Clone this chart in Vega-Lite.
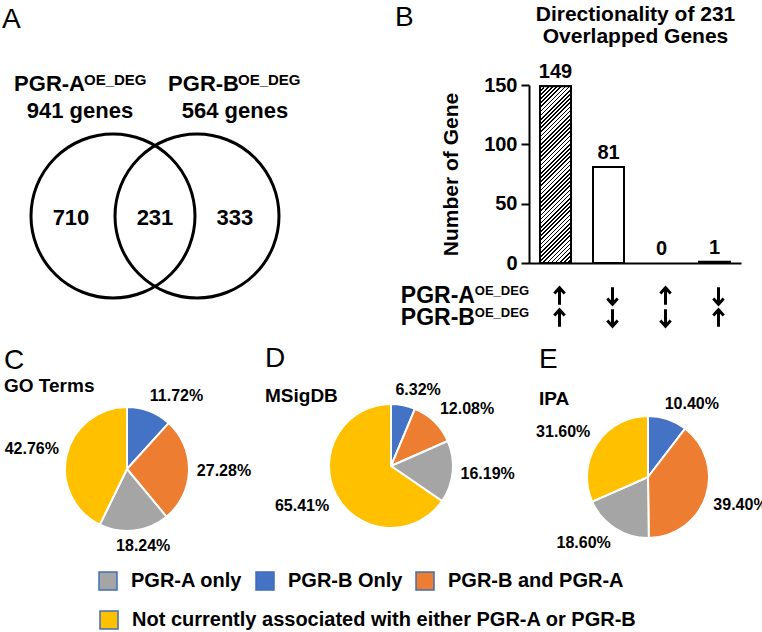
{
  "$schema": "https://vega.github.io/schema/vega-lite/v6.json",
  "background": "white",
  "padding": {"left": 1, "top": 3, "right": 0, "bottom": 0},
  "config": {
    "font": "Liberation Sans",
    "view": {"stroke": null},
    "title": {"fontSize": 28, "fontWeight": "normal", "anchor": "start", "color": "black", "subtitleFontSize": 19, "subtitleFontWeight": "bold", "subtitleColor": "black", "subtitleFont": "Liberation Sans"},
    "text": {"font": "Liberation Sans", "fontWeight": "bold", "color": "black"},
    "legend": {"title": null, "padding": 0, "symbolType": "square", "symbolSize": 324, "symbolStrokeColor": "#3f6fb5", "symbolStrokeWidth": 1.5, "labelFontSize": 20, "labelFontWeight": "bold", "labelColor": "black", "labelOffset": 13, "columnPadding": 10, "labelLimit": 600}
  },
  "datasets": {
    "venn_sets": [
      {"set": "PGR-A", "label": "941 genes", "x": 0},
      {"set": "PGR-B", "label": "564 genes", "x": 1}
    ],
    "venn_regions": [
      {"region": "PGR-A only", "count": 710, "x": -0.5},
      {"region": "PGR-A and PGR-B", "count": 231, "x": 0.5},
      {"region": "PGR-B only", "count": 333, "x": 1.45}
    ],
    "directions": [
      {"pattern": "↑↑", "A": "up", "B": "up", "genes": 149},
      {"pattern": "↓↓", "A": "down", "B": "down", "genes": 81},
      {"pattern": "↑↓", "A": "up", "B": "down", "genes": 0},
      {"pattern": "↓↑", "A": "down", "B": "up", "genes": 1}
    ],
    "rows": [{"row": "PGR-A"}, {"row": "PGR-B"}],
    "go": [
      {"category": "PGR-B Only", "pct": 0.1172, "rank": 1},
      {"category": "PGR-B and PGR-A", "pct": 0.2728, "rank": 2},
      {"category": "PGR-A only", "pct": 0.1824, "rank": 3},
      {"category": "Not currently associated with either PGR-A or PGR-B", "pct": 0.4276, "rank": 4}
    ],
    "msig": [
      {"category": "PGR-B Only", "pct": 0.0632, "rank": 1},
      {"category": "PGR-B and PGR-A", "pct": 0.1208, "rank": 2},
      {"category": "PGR-A only", "pct": 0.1619, "rank": 3},
      {"category": "Not currently associated with either PGR-A or PGR-B", "pct": 0.6541, "rank": 4}
    ],
    "ipa": [
      {"category": "PGR-B Only", "pct": 0.104, "rank": 1},
      {"category": "PGR-B and PGR-A", "pct": 0.394, "rank": 2},
      {"category": "PGR-A only", "pct": 0.186, "rank": 3},
      {"category": "Not currently associated with either PGR-A or PGR-B", "pct": 0.316, "rank": 4}
    ]
  },
  "columns": 3,
  "bounds": "flush",
  "align": "each",
  "spacing": {"row": 60, "column": 12},
  "concat": [
    {
      "title": {"text": "A", "dx": 1, "offset": 39},
      "width": 252,
      "height": 262,
      "data": {"name": "venn_sets"},
      "layer": [
        {
          "mark": {"type": "point", "shape": "circle", "size": 26896, "filled": false, "stroke": "black", "strokeWidth": 3, "opacity": 1},
          "encoding": {"x": {"field": "x", "type": "quantitative", "scale": {"domain": [-1.3333, 1.6667], "nice": false, "zero": false}, "axis": null}}
        },
        {
          "mark": {"type": "text", "fontSize": 22, "align": "right", "baseline": "alphabetic", "dy": -125, "dx": {"expr": "datum.set == 'PGR-A' ? -28 : 42"}},
          "encoding": {"x": {"field": "x", "type": "quantitative"}, "text": {"field": "set"}}
        },
        {
          "mark": {"type": "text", "fontSize": 15, "align": "left", "baseline": "alphabetic", "dy": -131, "dx": {"expr": "datum.set == 'PGR-A' ? -29 : 41"}},
          "encoding": {"x": {"field": "x", "type": "quantitative"}, "text": {"value": "OE_DEG"}}
        },
        {
          "mark": {"type": "text", "fontSize": 22, "align": "center", "baseline": "alphabetic", "dy": -98, "dx": {"expr": "datum.set == 'PGR-A' ? -33 : 38"}},
          "encoding": {"x": {"field": "x", "type": "quantitative"}, "text": {"field": "label"}}
        },
        {
          "data": {"name": "venn_regions"},
          "mark": {"type": "text", "fontSize": 22, "align": "center", "baseline": "middle", "dy": 2},
          "encoding": {"x": {"field": "x", "type": "quantitative"}, "text": {"field": "count"}}
        }
      ]
    },
    {
      "width": 1,
      "height": 1,
      "data": {"values": [{}]},
      "mark": {"type": "point", "opacity": 0}
    },
    {
      "title": {"text": "B", "dx": -6, "offset": 49, "dy": 78},
      "width": 212,
      "height": 178,
      "data": {"name": "directions"},
      "resolve": {"axis": {"x": "independent"}},
      "layer": [
        {
          "mark": {"type": "bar", "fill": "white", "stroke": "black", "strokeWidth": 2},
          "encoding": {
            "x": {"field": "pattern", "type": "nominal", "sort": null, "scale": {"paddingInner": 0.415, "paddingOuter": 0.2075},
              "axis": {"orient": "bottom", "labels": false, "ticks": false, "title": null, "domainColor": "black", "domainWidth": 2}},
            "y": {"field": "genes", "type": "quantitative", "scale": {"domain": [0, 150], "nice": false},
              "axis": {"values": [0, 50, 100, 150], "title": "Number of Gene", "grid": false, "domainColor": "black", "domainWidth": 2, "tickColor": "black", "tickWidth": 2, "tickSize": 8, "labelFontSize": 20, "labelFontWeight": "bold", "labelColor": "black", "labelPadding": 4, "titleFontSize": 21, "titleFontWeight": "bold", "titleColor": "black", "titlePadding": 22}},
            "strokeWidth": {"condition": {"test": "datum.genes == 0", "value": 0}, "value": 2}
          }
        },
        {
          "transform": [{"filter": {"field": "pattern", "equal": "↑↑"}}],
          "mark": {"type": "bar", "stroke": "black", "strokeWidth": 2, "fill": {"gradient": "linear", "x1": 0, "y1": 0, "x2": 0.2, "y2": 1.14, "stops": [
            {"offset":0,"color":"#000"},{"offset":0.008,"color":"#000"},{"offset":0.008,"color":"#fff"},{"offset":0.02,"color":"#fff"},
            {"offset":0.02,"color":"#000"},{"offset":0.028,"color":"#000"},{"offset":0.028,"color":"#fff"},{"offset":0.04,"color":"#fff"},
            {"offset":0.04,"color":"#000"},{"offset":0.048,"color":"#000"},{"offset":0.048,"color":"#fff"},{"offset":0.06,"color":"#fff"},
            {"offset":0.06,"color":"#000"},{"offset":0.068,"color":"#000"},{"offset":0.068,"color":"#fff"},{"offset":0.08,"color":"#fff"},
            {"offset":0.08,"color":"#000"},{"offset":0.088,"color":"#000"},{"offset":0.088,"color":"#fff"},{"offset":0.1,"color":"#fff"},
            {"offset":0.1,"color":"#000"},{"offset":0.108,"color":"#000"},{"offset":0.108,"color":"#fff"},{"offset":0.12,"color":"#fff"},
            {"offset":0.12,"color":"#000"},{"offset":0.128,"color":"#000"},{"offset":0.128,"color":"#fff"},{"offset":0.14,"color":"#fff"},
            {"offset":0.14,"color":"#000"},{"offset":0.148,"color":"#000"},{"offset":0.148,"color":"#fff"},{"offset":0.16,"color":"#fff"},
            {"offset":0.16,"color":"#000"},{"offset":0.168,"color":"#000"},{"offset":0.168,"color":"#fff"},{"offset":0.18,"color":"#fff"},
            {"offset":0.18,"color":"#000"},{"offset":0.188,"color":"#000"},{"offset":0.188,"color":"#fff"},{"offset":0.2,"color":"#fff"},
            {"offset":0.2,"color":"#000"},{"offset":0.208,"color":"#000"},{"offset":0.208,"color":"#fff"},{"offset":0.22,"color":"#fff"},
            {"offset":0.22,"color":"#000"},{"offset":0.228,"color":"#000"},{"offset":0.228,"color":"#fff"},{"offset":0.24,"color":"#fff"},
            {"offset":0.24,"color":"#000"},{"offset":0.248,"color":"#000"},{"offset":0.248,"color":"#fff"},{"offset":0.26,"color":"#fff"},
            {"offset":0.26,"color":"#000"},{"offset":0.268,"color":"#000"},{"offset":0.268,"color":"#fff"},{"offset":0.28,"color":"#fff"},
            {"offset":0.28,"color":"#000"},{"offset":0.288,"color":"#000"},{"offset":0.288,"color":"#fff"},{"offset":0.3,"color":"#fff"},
            {"offset":0.3,"color":"#000"},{"offset":0.308,"color":"#000"},{"offset":0.308,"color":"#fff"},{"offset":0.32,"color":"#fff"},
            {"offset":0.32,"color":"#000"},{"offset":0.328,"color":"#000"},{"offset":0.328,"color":"#fff"},{"offset":0.34,"color":"#fff"},
            {"offset":0.34,"color":"#000"},{"offset":0.348,"color":"#000"},{"offset":0.348,"color":"#fff"},{"offset":0.36,"color":"#fff"},
            {"offset":0.36,"color":"#000"},{"offset":0.368,"color":"#000"},{"offset":0.368,"color":"#fff"},{"offset":0.38,"color":"#fff"},
            {"offset":0.38,"color":"#000"},{"offset":0.388,"color":"#000"},{"offset":0.388,"color":"#fff"},{"offset":0.4,"color":"#fff"},
            {"offset":0.4,"color":"#000"},{"offset":0.408,"color":"#000"},{"offset":0.408,"color":"#fff"},{"offset":0.42,"color":"#fff"},
            {"offset":0.42,"color":"#000"},{"offset":0.428,"color":"#000"},{"offset":0.428,"color":"#fff"},{"offset":0.44,"color":"#fff"},
            {"offset":0.44,"color":"#000"},{"offset":0.448,"color":"#000"},{"offset":0.448,"color":"#fff"},{"offset":0.46,"color":"#fff"},
            {"offset":0.46,"color":"#000"},{"offset":0.468,"color":"#000"},{"offset":0.468,"color":"#fff"},{"offset":0.48,"color":"#fff"},
            {"offset":0.48,"color":"#000"},{"offset":0.488,"color":"#000"},{"offset":0.488,"color":"#fff"},{"offset":0.5,"color":"#fff"},
            {"offset":0.5,"color":"#000"},{"offset":0.508,"color":"#000"},{"offset":0.508,"color":"#fff"},{"offset":0.52,"color":"#fff"},
            {"offset":0.52,"color":"#000"},{"offset":0.528,"color":"#000"},{"offset":0.528,"color":"#fff"},{"offset":0.54,"color":"#fff"},
            {"offset":0.54,"color":"#000"},{"offset":0.548,"color":"#000"},{"offset":0.548,"color":"#fff"},{"offset":0.56,"color":"#fff"},
            {"offset":0.56,"color":"#000"},{"offset":0.568,"color":"#000"},{"offset":0.568,"color":"#fff"},{"offset":0.58,"color":"#fff"},
            {"offset":0.58,"color":"#000"},{"offset":0.588,"color":"#000"},{"offset":0.588,"color":"#fff"},{"offset":0.6,"color":"#fff"},
            {"offset":0.6,"color":"#000"},{"offset":0.608,"color":"#000"},{"offset":0.608,"color":"#fff"},{"offset":0.62,"color":"#fff"},
            {"offset":0.62,"color":"#000"},{"offset":0.628,"color":"#000"},{"offset":0.628,"color":"#fff"},{"offset":0.64,"color":"#fff"},
            {"offset":0.64,"color":"#000"},{"offset":0.648,"color":"#000"},{"offset":0.648,"color":"#fff"},{"offset":0.66,"color":"#fff"},
            {"offset":0.66,"color":"#000"},{"offset":0.668,"color":"#000"},{"offset":0.668,"color":"#fff"},{"offset":0.68,"color":"#fff"},
            {"offset":0.68,"color":"#000"},{"offset":0.688,"color":"#000"},{"offset":0.688,"color":"#fff"},{"offset":0.7,"color":"#fff"},
            {"offset":0.7,"color":"#000"},{"offset":0.708,"color":"#000"},{"offset":0.708,"color":"#fff"},{"offset":0.72,"color":"#fff"},
            {"offset":0.72,"color":"#000"},{"offset":0.728,"color":"#000"},{"offset":0.728,"color":"#fff"},{"offset":0.74,"color":"#fff"},
            {"offset":0.74,"color":"#000"},{"offset":0.748,"color":"#000"},{"offset":0.748,"color":"#fff"},{"offset":0.76,"color":"#fff"},
            {"offset":0.76,"color":"#000"},{"offset":0.768,"color":"#000"},{"offset":0.768,"color":"#fff"},{"offset":0.78,"color":"#fff"},
            {"offset":0.78,"color":"#000"},{"offset":0.788,"color":"#000"},{"offset":0.788,"color":"#fff"},{"offset":0.8,"color":"#fff"},
            {"offset":0.8,"color":"#000"},{"offset":0.808,"color":"#000"},{"offset":0.808,"color":"#fff"},{"offset":0.82,"color":"#fff"},
            {"offset":0.82,"color":"#000"},{"offset":0.828,"color":"#000"},{"offset":0.828,"color":"#fff"},{"offset":0.84,"color":"#fff"},
            {"offset":0.84,"color":"#000"},{"offset":0.848,"color":"#000"},{"offset":0.848,"color":"#fff"},{"offset":0.86,"color":"#fff"},
            {"offset":0.86,"color":"#000"},{"offset":0.868,"color":"#000"},{"offset":0.868,"color":"#fff"},{"offset":0.88,"color":"#fff"},
            {"offset":0.88,"color":"#000"},{"offset":0.888,"color":"#000"},{"offset":0.888,"color":"#fff"},{"offset":0.9,"color":"#fff"},
            {"offset":0.9,"color":"#000"},{"offset":0.908,"color":"#000"},{"offset":0.908,"color":"#fff"},{"offset":0.92,"color":"#fff"},
            {"offset":0.92,"color":"#000"},{"offset":0.928,"color":"#000"},{"offset":0.928,"color":"#fff"},{"offset":0.94,"color":"#fff"},
            {"offset":0.94,"color":"#000"},{"offset":0.948,"color":"#000"},{"offset":0.948,"color":"#fff"},{"offset":0.96,"color":"#fff"},
            {"offset":0.96,"color":"#000"},{"offset":0.968,"color":"#000"},{"offset":0.968,"color":"#fff"},{"offset":0.98,"color":"#fff"},
            {"offset":0.98,"color":"#000"},{"offset":0.988,"color":"#000"},{"offset":0.988,"color":"#fff"},{"offset":1,"color":"#fff"}
          ]}},
          "encoding": {
            "x": {"field": "pattern", "type": "nominal", "sort": null, "axis": null},
            "y": {"field": "genes", "type": "quantitative"}
          }
        },
        {
          "mark": {"type": "text", "fontSize": 20, "align": "center", "baseline": "bottom", "dy": -4},
          "encoding": {
            "x": {"field": "pattern", "type": "nominal", "sort": null,
              "axis": {"orient": "top", "labels": false, "ticks": false, "domain": false, "title": ["Directionality of 231", "Overlapped Genes"], "titleFontSize": 21, "titleFontWeight": "bold", "titleColor": "black", "titleLineHeight": 22, "titlePadding": 39}},
            "y": {"field": "genes", "type": "quantitative"},
            "text": {"field": "genes"}
          }
        },
        {
          "mark": {"type": "point", "filled": false, "stroke": "black", "strokeWidth": 3, "opacity": 1, "size": 300, "yOffset": 33, "xOffset": 4},
          "encoding": {
            "x": {"field": "pattern", "type": "nominal", "sort": null, "axis": null},
            "y": {"datum": 0},
            "shape": {"field": "A", "type": "nominal", "scale": {"domain": ["up", "down"], "range": ["M0,1L0,-0.85M-0.6,-0.3L0,-0.95L0.6,-0.3", "M0,-1L0,0.85M-0.6,0.3L0,0.95L0.6,0.3"]}, "legend": null}
          }
        },
        {
          "mark": {"type": "point", "filled": false, "stroke": "black", "strokeWidth": 3, "opacity": 1, "size": 300, "yOffset": 55, "xOffset": 4},
          "encoding": {
            "x": {"field": "pattern", "type": "nominal", "sort": null, "axis": null},
            "y": {"datum": 0},
            "shape": {"field": "B", "type": "nominal", "legend": null}
          }
        },
        {
          "data": {"name": "rows"},
          "mark": {"type": "text", "fontSize": 23, "align": "right", "baseline": "alphabetic", "dx": -65, "dy": {"expr": "datum.row == 'PGR-A' ? 40 : 62"}},
          "encoding": {
            "x": {"datum": "↑↑", "type": "nominal", "bandPosition": 0, "axis": null},
            "y": {"datum": 0},
            "text": {"field": "row"}
          }
        },
        {
          "data": {"name": "rows"},
          "mark": {"type": "text", "fontSize": 13, "align": "right", "baseline": "alphabetic", "dx": -11, "dy": {"expr": "datum.row == 'PGR-A' ? 32 : 54"}},
          "encoding": {
            "x": {"datum": "↑↑", "type": "nominal", "bandPosition": 0, "axis": null},
            "y": {"datum": 0},
            "text": {"value": "OE_DEG"}
          }
        }
      ]
    },
    {
      "title": {"text": "C", "subtitle": "GO Terms", "dx": 3, "offset": -8, "subtitlePadding": 2},
      "width": 252,
      "height": 124,
      "data": {"name": "go"},
      "encoding": {
        "theta": {"field": "pct", "type": "quantitative", "stack": true},
        "color": {"field": "category", "type": "nominal",
          "scale": {"domain": ["PGR-A only", "PGR-B Only", "PGR-B and PGR-A", "Not currently associated with either PGR-A or PGR-B"], "range": ["#a5a5a5", "#4472c4", "#ed7d31", "#ffc000"]},
          "legend": {"orient": "none", "legendX": 97, "legendY": 486, "direction": "horizontal", "values": ["PGR-A only", "PGR-B Only", "PGR-B and PGR-A"]}},
        "order": {"field": "rank", "type": "quantitative"}
      },
      "layer": [
        {"mark": {"type": "arc", "outerRadius": 62, "stroke": "white", "strokeWidth": 2}},
        {
          "mark": {"type": "text", "radius": 70, "fontSize": 16, "align": "center", "baseline": "middle",
            "dx": {"expr": "27*clamp(2.5*sin(PI*(datum.pct_start+datum.pct_end)),-1,1)"},
            "dy": {"expr": "-7.5*clamp(2.5*cos(PI*(datum.pct_start+datum.pct_end)),-1,1)"}},
          "encoding": {"text": {"field": "pct", "format": ".2%"}, "color": {"value": "black"}, "detail": {"field": "category"}}
        },
        {
          "transform": [{"filter": {"field": "category", "equal": "Not currently associated with either PGR-A or PGR-B"}}],
          "mark": {"type": "arc", "outerRadius": 0.01, "strokeWidth": 0},
          "encoding": {
            "fill": {"field": "category", "type": "nominal",
              "scale": {"domain": ["Not currently associated with either PGR-A or PGR-B"], "range": ["#ffc000"]},
              "legend": {"orient": "none", "legendX": 98, "legendY": 525, "direction": "horizontal"}}
          }
        }
      ]
    },
    {
      "title": {"text": "D", "subtitle": "MSigDB", "dx": 0, "offset": -24, "subtitlePadding": 14},
      "width": 252,
      "height": 118,
      "data": {"name": "msig"},
      "encoding": {
        "theta": {"field": "pct", "type": "quantitative", "stack": true},
        "color": {"field": "category", "type": "nominal",
          "scale": {"domain": ["PGR-A only", "PGR-B Only", "PGR-B and PGR-A", "Not currently associated with either PGR-A or PGR-B"], "range": ["#a5a5a5", "#4472c4", "#ed7d31", "#ffc000"]},
          "legend": {"orient": "none", "legendX": 97, "legendY": 486, "direction": "horizontal", "values": ["PGR-A only", "PGR-B Only", "PGR-B and PGR-A"]}},
        "order": {"field": "rank", "type": "quantitative"}
      },
      "layer": [
        {"mark": {"type": "arc", "outerRadius": 62, "stroke": "white", "strokeWidth": 2}},
        {
          "mark": {"type": "text", "radius": 70, "fontSize": 16, "align": "center", "baseline": "middle",
            "dx": {"expr": "27*clamp(2.5*sin(PI*(datum.pct_start+datum.pct_end)),-1,1)"},
            "dy": {"expr": "-7.5*clamp(2.5*cos(PI*(datum.pct_start+datum.pct_end)),-1,1)"}},
          "encoding": {"text": {"field": "pct", "format": ".2%"}, "color": {"value": "black"}, "detail": {"field": "category"}}
        }
      ]
    },
    {
      "title": {"text": "E", "subtitle": "IPA", "dx": 10, "offset": -13, "subtitlePadding": 16},
      "width": 238,
      "height": 140,
      "data": {"name": "ipa"},
      "encoding": {
        "theta": {"field": "pct", "type": "quantitative", "stack": true},
        "color": {"field": "category", "type": "nominal",
          "scale": {"domain": ["PGR-A only", "PGR-B Only", "PGR-B and PGR-A", "Not currently associated with either PGR-A or PGR-B"], "range": ["#a5a5a5", "#4472c4", "#ed7d31", "#ffc000"]},
          "legend": {"orient": "none", "legendX": 97, "legendY": 486, "direction": "horizontal", "values": ["PGR-A only", "PGR-B Only", "PGR-B and PGR-A"]}},
        "order": {"field": "rank", "type": "quantitative"}
      },
      "layer": [
        {"mark": {"type": "arc", "outerRadius": 61, "stroke": "white", "strokeWidth": 2}},
        {
          "mark": {"type": "text", "radius": 69, "fontSize": 16, "align": "center", "baseline": "middle",
            "dx": {"expr": "27*clamp(2.5*sin(PI*(datum.pct_start+datum.pct_end)),-1,1)"},
            "dy": {"expr": "-7.5*clamp(2.5*cos(PI*(datum.pct_start+datum.pct_end)),-1,1)"}},
          "encoding": {"text": {"field": "pct", "format": ".2%"}, "color": {"value": "black"}, "detail": {"field": "category"}}
        }
      ]
    }
  ]
}
